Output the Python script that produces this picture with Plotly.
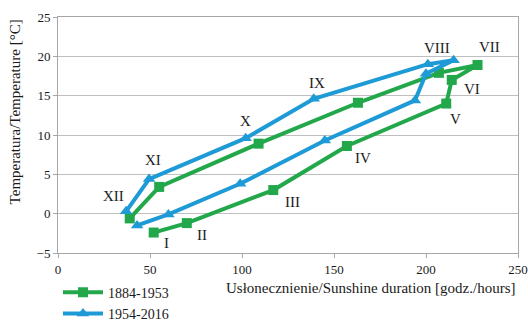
import plotly.graph_objects as go

months = ["I", "II", "III", "IV", "V", "VI", "VII", "VIII", "IX", "X", "XI", "XII"]

sun_1884 = [52, 70, 117, 157, 211, 214, 228, 207, 163, 109, 55, 39]
temp_1884 = [-2.4, -1.2, 3.0, 8.6, 14.0, 17.0, 18.9, 17.9, 14.1, 8.9, 3.4, -0.6]

sun_1954 = [43, 60, 99, 145, 194, 200, 215, 201, 139, 102, 49.5, 37]
temp_1954 = [-1.5, -0.1, 3.8, 9.3, 14.4, 17.8, 19.5, 19.0, 14.6, 9.6, 4.4, 0.3]

x_ticks = [0, 50, 100, 150, 200, 250]
y_ticks = [-5, 0, 5, 10, 15, 20, 25]

GREEN = "#22a84b"
BLUE = "#1e9ad6"
FONT = "Liberation Serif"
TXT = "#1a1a1a"

fig = go.Figure()
fig.add_trace(go.Scatter(
    x=sun_1884, y=temp_1884, mode="lines+markers", name="1884-1953",
    line=dict(color=GREEN, width=4),
    marker=dict(symbol="square", size=10, color=GREEN),
))
fig.add_trace(go.Scatter(
    x=sun_1954, y=temp_1954, mode="lines+markers", name="1954-2016",
    line=dict(color=BLUE, width=4),
    marker=dict(symbol="triangle-up", size=11, color=BLUE),
))

# month labels: (series, dx, dy) offsets in pixels from the chosen point
label_spec = {
    "I": ("g", 13, -10), "II": ("g", 15, -12), "III": ("g", 19, -12),
    "IV": ("g", 16, -12), "V": ("g", 9, -15), "VI": ("g", 20, -9),
    "VII": ("g", 12, 18), "VIII": ("b", 9, 16), "IX": ("b", 3, 16),
    "X": ("b", 0, 17), "XI": ("b", 4, 19), "XII": ("b", -13, 15),
}
for i, m in enumerate(months):
    s, dx, dy = label_spec[m]
    px = sun_1884[i] if s == "g" else sun_1954[i]
    py = temp_1884[i] if s == "g" else temp_1954[i]
    fig.add_annotation(x=px, y=py, text=m, showarrow=False,
                       xshift=dx, yshift=dy,
                       font=dict(family=FONT, size=15, color=TXT))

fig.add_annotation(xref="paper", yref="paper", x=1.0, y=-0.105,
                   xanchor="right", yanchor="top", showarrow=False,
                   text="Usłonecznienie/Sunshine duration [godz./hours]",
                   font=dict(family=FONT, size=15, color=TXT))
fig.add_annotation(xref="paper", yref="paper", x=-0.0935, y=0.6,
                   xanchor="center", yanchor="middle", showarrow=False,
                   textangle=-90,
                   text="Temperatura/Temperature [°C]",
                   font=dict(family=FONT, size=15, color=TXT))

fig.update_xaxes(range=[0, 250], tickvals=x_ticks, showgrid=False,
                 showline=True, linecolor="#a6a6a6", linewidth=1, mirror=True,
                 ticks="outside", ticklen=4, tickcolor="#a6a6a6",
                 zeroline=False, automargin=False,
                 tickfont=dict(family=FONT, size=13, color=TXT))
fig.update_yaxes(range=[-5, 25], tickvals=y_ticks,
                 ticktext=["\u22125", "0", "5", "10", "15", "20", "25"],
                 showgrid=True, gridcolor="#bfbfbf", gridwidth=1,
                 showline=True, linecolor="#a6a6a6", linewidth=1, mirror=True,
                 ticks="outside", ticklen=4, tickcolor="#a6a6a6",
                 zeroline=False, automargin=False,
                 tickfont=dict(family=FONT, size=13, color=TXT))

fig.update_layout(
    width=528, height=322,
    margin=dict(l=58, r=10, t=17, b=69, autoexpand=False),
    paper_bgcolor="white", plot_bgcolor="white",
    font=dict(family=FONT, size=13, color=TXT),
    legend=dict(x=0.0, y=-0.325, xanchor="left", yanchor="bottom",
                orientation="v", bgcolor="rgba(0,0,0,0)",
                font=dict(family=FONT, size=14, color=TXT),
                tracegroupgap=0, itemwidth=40),
)

# remove the default 8px page margin so the chart sits at the window's corner
fig.write_html("out.html",
               config={"displayModeBar": False},
               post_script="document.body.style.margin='0';"
                           "document.body.style.overflow='hidden';")
